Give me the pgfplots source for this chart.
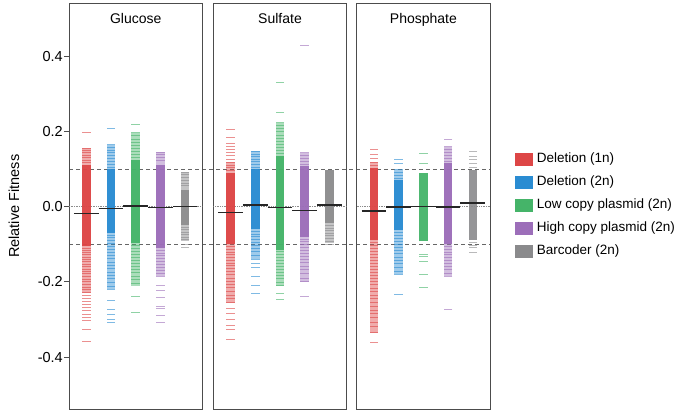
\documentclass[border=0pt]{standalone}
\usepackage{fontspec}
\setmainfont{Liberation Sans}
\usepackage{pgfplots}
\pgfplotsset{compat=1.18}
\definecolor{cR}{HTML}{DD4646}
\definecolor{cB}{HTML}{2A8CD2}
\definecolor{cG}{HTML}{45B469}
\definecolor{cP}{HTML}{9C6EB9}
\definecolor{cY}{HTML}{8A8A8C}
\newcommand\band[4]{\addplot[#1, line width=8.5pt, forget plot] coordinates {(#2,#3) (#2,#4)};}
\newcommand\med[2]{\addplot[black!85, line width=1.5pt, forget plot] coordinates {(#1-0.5,#2) (#1+0.5,#2)};}
\pgfplotsset{
  every axis title shift=0pt,
  panel/.style={scale only axis, width=133.4pt, height=406pt,
    xmin=0.3, xmax=5.7, ymin=-0.539, ymax=0.541, xtick=\empty, ytick=\empty,
    axis line style={draw=black!70, line width=0.8pt},
    title style={at={(0.5,1)}, anchor=base, yshift=-20.5pt, font=\fontsize{14}{16}\selectfont}},
  stripe/.style={only marks, mark=-, mark size=4.25pt, mark options={line width=1pt}, opacity=0.6, forget plot},
  zero/.style={forget plot, densely dotted, black!45, line width=0.7pt}
}
\begin{document}
\begin{tikzpicture}
\path[use as bounding box] (0pt,0pt) rectangle (678pt,-411pt);
% dashed threshold lines across all panels
\begin{axis}[scale only axis, at={(69pt,-409.3pt)}, anchor=south west, width=421pt, height=406pt,
  hide axis, xmin=0, xmax=1, ymin=-0.539, ymax=0.541]
\addplot[black!60, line width=0.7pt, dash pattern=on 4pt off 3pt] coordinates {(0,0.1) (1,0.1)};
\addplot[black!60, line width=0.7pt, dash pattern=on 4pt off 3pt] coordinates {(0,-0.1) (1,-0.1)};
\end{axis}
% ---------------- Glucose
\begin{axis}[panel, at={(69pt,-409.3pt)}, anchor=south west, title={Glucose},
  ytick={-0.4,-0.2,0,0.2,0.4}, yticklabels={-0.4,-0.2,0.0,0.2,0.4},
  ytick pos=left, tick align=outside, major tick length=5pt,
  tick style={black!70, line width=0.8pt},
  yticklabel style={font=\fontsize{14.5}{16}\selectfont, inner xsep=1pt},
  ylabel={Relative Fitness},
  every axis y label/.style={at={(rel axis cs:-0.412,0.5)}, rotate=90, anchor=center, font=\fontsize{14.5}{17}\selectfont}]
\addplot[zero] coordinates {(0.3,0) (5.7,0)};
\band{cR, opacity=0.45}{1}{-0.23}{0.155}
\band{cR, opacity=0.95}{1}{-0.105}{0.11}
\addplot[stripe, cR] coordinates {(1,0.197)(1,0.155)(1,0.149)(1,0.143)(1,0.137)(1,0.13)(1,0.124)(1,0.118)(1,-0.11)(1,-0.116)(1,-0.122)(1,-0.128)(1,-0.134)(1,-0.14)(1,-0.147)(1,-0.153)(1,-0.16)(1,-0.166)(1,-0.172)(1,-0.179)(1,-0.186)(1,-0.193)(1,-0.2)(1,-0.207)(1,-0.214)(1,-0.221)(1,-0.228)(1,-0.236)(1,-0.245)(1,-0.252)(1,-0.26)(1,-0.268)(1,-0.277)(1,-0.286)(1,-0.295)(1,-0.303)(1,-0.327)(1,-0.358)};
\band{cB, opacity=0.45}{2}{-0.22}{0.165}
\band{cB, opacity=0.95}{2}{-0.07}{0.1}
\addplot[stripe, cB] coordinates {(2,0.209)(2,0.165)(2,0.158)(2,0.15)(2,0.143)(2,0.135)(2,0.127)(2,0.12)(2,0.112)(2,0.105)(2,-0.076)(2,-0.083)(2,-0.09)(2,-0.098)(2,-0.106)(2,-0.114)(2,-0.122)(2,-0.13)(2,-0.139)(2,-0.148)(2,-0.156)(2,-0.165)(2,-0.174)(2,-0.183)(2,-0.192)(2,-0.202)(2,-0.212)(2,-0.22)(2,-0.25)(2,-0.274)(2,-0.287)(2,-0.3)(2,-0.309)};
\band{cG, opacity=0.45}{3}{-0.21}{0.196}
\band{cG, opacity=0.95}{3}{-0.096}{0.125}
\addplot[stripe, cG] coordinates {(3,0.218)(3,0.196)(3,0.188)(3,0.18)(3,0.172)(3,0.164)(3,0.156)(3,0.148)(3,0.14)(3,0.132)(3,-0.103)(3,-0.11)(3,-0.118)(3,-0.126)(3,-0.134)(3,-0.142)(3,-0.15)(3,-0.158)(3,-0.167)(3,-0.176)(3,-0.185)(3,-0.195)(3,-0.205)(3,-0.238)(3,-0.281)};
\band{cP, opacity=0.45}{4}{-0.185}{0.145}
\band{cP, opacity=0.95}{4}{-0.11}{0.112}
\addplot[stripe, cP] coordinates {(4,0.145)(4,0.138)(4,0.13)(4,0.122)(4,-0.117)(4,-0.124)(4,-0.131)(4,-0.138)(4,-0.146)(4,-0.154)(4,-0.162)(4,-0.17)(4,-0.178)(4,-0.185)(4,-0.209)(4,-0.223)(4,-0.241)(4,-0.266)(4,-0.27)(4,-0.29)(4,-0.307)};
\band{cY, opacity=0.5}{5}{-0.09}{0.092}
\band{cY, opacity=0.9}{5}{-0.05}{0.045}
\addplot[stripe, cY] coordinates {(5,0.092)(5,0.085)(5,0.078)(5,0.07)(5,0.062)(5,0.055)(5,-0.055)(5,-0.061)(5,-0.068)(5,-0.075)(5,-0.082)(5,-0.088)(5,-0.1)(5,-0.108)};
\med{1}{-0.018}\med{2}{-0.005}\med{3}{0.002}\med{4}{-0.002}\med{5}{0.0}
\end{axis}
% ---------------- Sulfate
\begin{axis}[panel, at={(213.3pt,-409.3pt)}, anchor=south west, title={Sulfate}]
\addplot[zero] coordinates {(0.3,0) (5.7,0)};
\band{cR, opacity=0.45}{1}{-0.255}{0.12}
\band{cR, opacity=0.95}{1}{-0.1}{0.09}
\addplot[stripe, cR] coordinates {(1,0.204)(1,0.185)(1,0.169)(1,0.16)(1,0.151)(1,0.143)(1,0.135)(1,0.126)(1,0.117)(1,0.11)(1,0.103)(1,0.096)(1,-0.107)(1,-0.114)(1,-0.121)(1,-0.128)(1,-0.135)(1,-0.142)(1,-0.15)(1,-0.157)(1,-0.165)(1,-0.173)(1,-0.181)(1,-0.19)(1,-0.198)(1,-0.207)(1,-0.216)(1,-0.225)(1,-0.235)(1,-0.245)(1,-0.255)(1,-0.27)(1,-0.283)(1,-0.3)(1,-0.315)(1,-0.327)(1,-0.353)};
\band{cB, opacity=0.45}{2}{-0.14}{0.147}
\band{cB, opacity=0.95}{2}{-0.06}{0.1}
\addplot[stripe, cB] coordinates {(2,0.147)(2,0.14)(2,0.133)(2,0.126)(2,0.119)(2,0.112)(2,0.105)(2,-0.066)(2,-0.073)(2,-0.08)(2,-0.088)(2,-0.096)(2,-0.104)(2,-0.112)(2,-0.12)(2,-0.13)(2,-0.14)(2,-0.15)(2,-0.162)(2,-0.185)(2,-0.21)(2,-0.23)};
\band{cG, opacity=0.45}{3}{-0.21}{0.223}
\band{cG, opacity=0.95}{3}{-0.114}{0.134}
\addplot[stripe, cG] coordinates {(3,0.329)(3,0.25)(3,0.223)(3,0.215)(3,0.207)(3,0.199)(3,0.19)(3,0.182)(3,0.174)(3,0.166)(3,0.158)(3,0.15)(3,0.142)(3,-0.12)(3,-0.127)(3,-0.134)(3,-0.142)(3,-0.15)(3,-0.158)(3,-0.166)(3,-0.174)(3,-0.183)(3,-0.192)(3,-0.201)(3,-0.21)(3,-0.23)(3,-0.247)};
\band{cP, opacity=0.45}{4}{-0.2}{0.143}
\band{cP, opacity=0.95}{4}{-0.08}{0.107}
\addplot[stripe, cP] coordinates {(4,0.43)(4,0.143)(4,0.136)(4,0.128)(4,0.12)(4,0.113)(4,-0.086)(4,-0.093)(4,-0.1)(4,-0.108)(4,-0.116)(4,-0.124)(4,-0.132)(4,-0.14)(4,-0.149)(4,-0.158)(4,-0.168)(4,-0.178)(4,-0.19)(4,-0.2)(4,-0.238)};
\band{cY, opacity=0.5}{5}{-0.096}{0.098}
\band{cY, opacity=0.9}{5}{-0.043}{0.098}
\addplot[stripe, cY] coordinates {(5,-0.05)(5,-0.057)(5,-0.064)(5,-0.071)(5,-0.078)(5,-0.085)(5,-0.092)(5,-0.1)};
\med{1}{-0.015}\med{2}{0.005}\med{3}{-0.002}\med{4}{-0.01}\med{5}{0.005}
\end{axis}
% ---------------- Phosphate
\begin{axis}[panel, at={(356.7pt,-409.3pt)}, anchor=south west, title={Phosphate},
  legend style={at={(1.185,0.635)}, anchor=north west, draw=none, fill=none, inner sep=0pt,
    font=\fontsize{13.5}{15}\selectfont, row sep=8pt, column sep=3.5pt, cells={anchor=west},
    nodes={inner sep=1pt, text height=10pt, text depth=3pt}},
  legend image code/.code={\fill (0pt,-6pt) rectangle (17pt,6pt);}]
\addlegendimage{cR}\addlegendentry{Deletion (1n)}
\addlegendimage{cB}\addlegendentry{Deletion (2n)}
\addlegendimage{cG}\addlegendentry{Low copy plasmid (2n)}
\addlegendimage{cP}\addlegendentry{High copy plasmid (2n)}
\addlegendimage{cY}\addlegendentry{Barcoder (2n)}
\addplot[zero] coordinates {(0.3,0) (5.7,0)};
\band{cR, opacity=0.45}{1}{-0.335}{0.12}
\band{cR, opacity=0.95}{1}{-0.088}{0.104}
\addplot[stripe, cR] coordinates {(1,0.151)(1,0.138)(1,0.128)(1,0.117)(1,0.11)(1,-0.095)(1,-0.103)(1,-0.111)(1,-0.119)(1,-0.127)(1,-0.135)(1,-0.143)(1,-0.151)(1,-0.159)(1,-0.167)(1,-0.175)(1,-0.183)(1,-0.191)(1,-0.2)(1,-0.208)(1,-0.217)(1,-0.226)(1,-0.235)(1,-0.245)(1,-0.255)(1,-0.265)(1,-0.275)(1,-0.285)(1,-0.296)(1,-0.307)(1,-0.32)(1,-0.335)(1,-0.361)};
\band{cB, opacity=0.45}{2}{-0.18}{0.098}
\band{cB, opacity=0.95}{2}{-0.061}{0.072}
\addplot[stripe, cB] coordinates {(2,0.125)(2,0.115)(2,0.098)(2,0.09)(2,0.082)(2,0.076)(2,-0.068)(2,-0.076)(2,-0.084)(2,-0.092)(2,-0.1)(2,-0.108)(2,-0.116)(2,-0.125)(2,-0.134)(2,-0.143)(2,-0.152)(2,-0.162)(2,-0.172)(2,-0.18)(2,-0.234)};
\band{cG, opacity=0.95}{3}{-0.092}{0.09}
\addplot[stripe, cG] coordinates {(3,0.142)(3,0.116)(3,-0.128)(3,-0.132)(3,-0.145)(3,-0.181)(3,-0.216)};
\band{cP, opacity=0.45}{4}{-0.185}{0.16}
\band{cP, opacity=0.95}{4}{-0.1}{0.117}
\addplot[stripe, cP] coordinates {(4,0.18)(4,0.16)(4,0.152)(4,0.144)(4,0.136)(4,0.128)(4,0.12)(4,-0.107)(4,-0.114)(4,-0.121)(4,-0.128)(4,-0.136)(4,-0.144)(4,-0.152)(4,-0.16)(4,-0.168)(4,-0.177)(4,-0.185)(4,-0.274)};
\band{cY, opacity=0.9}{5}{-0.088}{0.098}
\addplot[stripe, cY] coordinates {(5,0.147)(5,0.134)(5,0.125)(5,0.115)(5,0.104)(5,-0.095)(5,-0.102)(5,-0.109)(5,-0.122)};
\med{1}{-0.012}\med{2}{-0.001}\med{3}{0.001}\med{4}{-0.001}\med{5}{0.01}
\end{axis}
\end{tikzpicture}
\end{document}
